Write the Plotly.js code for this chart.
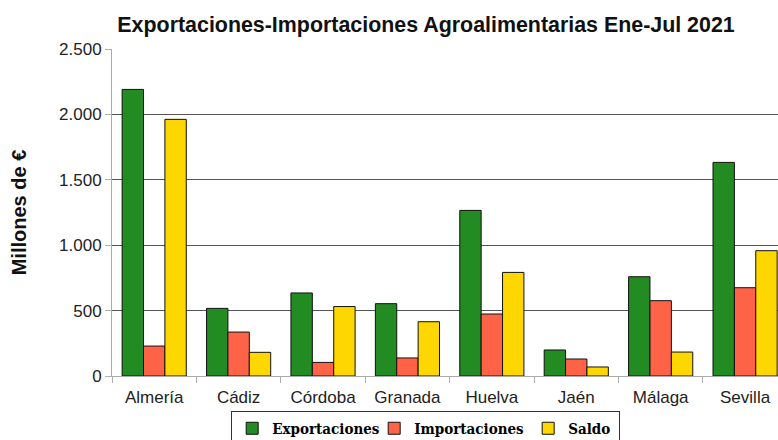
<!DOCTYPE html>
<html>
<head>
<meta charset="utf-8">
<script src="https://cdn.plot.ly/plotly-3.0.1.min.js"></script>
<style>html,body{margin:0;padding:0;background:#fff;}#chart{width:778px;height:440px;}</style>
</head>
<body>
<div id="chart"></div>
<script>
const provincias = ["Almería", "Cádiz", "Córdoba", "Granada", "Huelva", "Jaén", "Málaga", "Sevilla"];
const exportaciones = [2191, 517, 635, 553, 1266, 199, 759, 1633];
const importaciones = [229, 336, 104, 138, 474, 130, 576, 675];
const saldo = [1962, 181, 531, 415, 792, 69, 183, 958];
const yTicks = [0, 500, 1000, 1500, 2000, 2500];

const series = [
  {name: "Exportaciones", y: exportaciones, color: "#228B22", lw: 97},
  {name: "Importaciones", y: importaciones, color: "#FF6347", lw: 109},
  {name: "Saldo", y: saldo, color: "#FFD700", lw: 46}
];

const data = series.map(s => ({
  type: "bar",
  name: s.name,
  x: provincias,
  y: s.y,
  legendwidth: s.lw,
  marker: {color: s.color, line: {color: "#111", width: 1}},
  hoverinfo: "x+y+name"
}));

const layout = {
  width: 778, height: 440,
  margin: {l: 112, r: 0, t: 49, b: 64},
  paper_bgcolor: "#fff", plot_bgcolor: "#fff",
  separators: ",.",
  barmode: "group",
  bargap: 0.24, bargroupgap: 0,
  font: {family: "Liberation Sans, Arial, sans-serif", size: 17, color: "#222"},
  title: {
    text: "<b>Exportaciones-Importaciones Agroalimentarias Ene-Jul 2021</b>",
    font: {family: "Liberation Sans, Arial, sans-serif", size: 21.4, color: "#111"},
    xref: "container", x: 0.5476, xanchor: "center",
    yref: "container", y: 0.945, yanchor: "middle"
  },
  xaxis: {
    type: "category",
    range: [-0.5, 7.39],
    tickson: "boundaries",
    ticks: "outside", ticklen: 6, tickcolor: "#b0b0b0", tickwidth: 1,
    showline: true, linecolor: "#aaa", linewidth: 1,
    showgrid: false,
    ticklabelstandoff: 6,
    tickfont: {size: 17, color: "#222"}
  },
  yaxis: {
    range: [0, 2500],
    tickvals: yTicks,
    tickformat: ",d",
    ticks: "outside", ticklen: 6, tickcolor: "#b0b0b0",
    showline: true, linecolor: "#aaa", linewidth: 1,
    gridcolor: "#555", gridwidth: 1,
    zeroline: false,
    tickfont: {size: 17, color: "#222"},
    title: {text: "<b>Millones de €</b>", font: {size: 20, color: "#111"}, standoff: 27}
  },
  legend: {
    orientation: "h",
    xref: "paper", x: 0.471, xanchor: "center",
    yref: "container", y: 0.0659, yanchor: "top",
    bordercolor: "#333", borderwidth: 1,
    font: {family: "DejaVu Serif Condensed, Liberation Serif, serif", size: 15, color: "#000", weight: "bold"},
    itemwidth: 30,
    tracegroupgap: 0
  },
  showlegend: true
};

Plotly.newPlot("chart", data, layout, {displayModeBar: false, staticPlot: true});
</script>
</body>
</html>
